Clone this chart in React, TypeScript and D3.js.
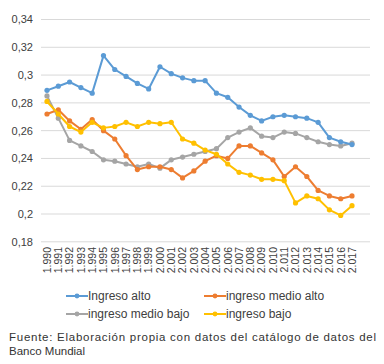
import React from "react";
import * as d3 from "d3";

const years = [1990,1991,1992,1993,1994,1995,1996,1997,1998,1999,2000,2001,2002,2003,2004,2005,2006,2007,2008,2009,2010,2011,2012,2013,2014,2015,2016,2017];
const yearLabels = years.map((y) => `${Math.floor(y / 1000)}.${String(y % 1000).padStart(3, "0")}`);

const ingresoAlto = [0.289,0.292,0.295,0.291,0.287,0.314,0.304,0.299,0.294,0.290,0.306,0.301,0.298,0.296,0.296,0.287,0.284,0.277,0.271,0.267,0.270,0.271,0.270,0.269,0.266,0.255,0.252,0.250];
const ingresoMedioAlto = [0.272,0.275,0.267,0.261,0.268,0.260,0.254,0.242,0.232,0.234,0.234,0.232,0.226,0.231,0.238,0.242,0.240,0.249,0.249,0.244,0.239,0.227,0.234,0.227,0.217,0.213,0.211,0.213];
const ingresoMedioBajo = [0.285,0.269,0.253,0.249,0.245,0.239,0.238,0.236,0.234,0.236,0.233,0.239,0.241,0.243,0.245,0.247,0.255,0.259,0.262,0.256,0.255,0.259,0.258,0.255,0.252,0.250,0.249,0.251];
const ingresoBajo = [0.281,0.272,0.263,0.259,0.266,0.262,0.263,0.266,0.263,0.266,0.265,0.266,0.254,0.251,0.246,0.243,0.236,0.230,0.228,0.225,0.225,0.224,0.208,0.213,0.211,0.203,0.199,0.206];

const yTicks = [0.18,0.2,0.22,0.24,0.26,0.28,0.3,0.32,0.34];
const yTickLabels = ["0,18","0,2","0,22","0,24","0,26","0,28","0,3","0,32","0,34"];

const series = [
  { name: "Ingreso alto", values: ingresoAlto, color: "#5B9BD5" },
  { name: "ingreso medio alto", values: ingresoMedioAlto, color: "#ED7D31" },
  { name: "ingreso medio bajo", values: ingresoMedioBajo, color: "#A5A5A5" },
  { name: "ingreso bajo", values: ingresoBajo, color: "#FFC000" },
];

const drawOrder = [2, 1, 3, 0];

export default function App() {
  const W = 384, H = 364;
  const x = d3.scalePoint<number>().domain(years).range([47, 352]);
  const y = d3.scaleLinear().domain([0.18, 0.34]).range([241.8, 19.5]);
  const gridX0 = 41, gridX1 = 370;
  const font = "'Liberation Sans', Arial, sans-serif";
  const line = d3.line<number>().x((_, i) => x(years[i])!).y((d) => y(d));

  const legendItems = [
    { s: series[0], lx: 66, ly: 296 },
    { s: series[1], lx: 204, ly: 296 },
    { s: series[2], lx: 66, ly: 314 },
    { s: series[3], lx: 204, ly: 314 },
  ];

  return (
    <svg width={W} height={H} style={{ position: "absolute", left: 0, top: 0, background: "#fff" }} fontFamily={font}>
      {yTicks.map((t, i) => (
        <g key={t}>
          <line x1={gridX0} x2={gridX1} y1={y(t)} y2={y(t)} stroke="#D9D9D9" strokeWidth={1} />
          <text x={33} y={y(t)} dy="0.35em" textAnchor="end" fontSize={11} fill="#404040">{yTickLabels[i]}</text>
        </g>
      ))}
      {years.map((yr, i) => (
        <text key={yr} transform={`translate(${x(yr)! + 3.8},247) rotate(-90)`} textAnchor="end" fontSize={10.5} fill="#404040">{yearLabels[i]}</text>
      ))}
      {drawOrder.map((k) => {
        const s = series[k];
        return (
          <g key={s.name}>
            <path d={line(s.values)!} fill="none" stroke={s.color} strokeWidth={2} strokeLinejoin="round" />
            {s.values.map((v, i) => (
              <circle key={i} cx={x(years[i])} cy={y(v)} r={2.6} fill={s.color} />
            ))}
          </g>
        );
      })}
      {legendItems.map(({ s, lx, ly }) => (
        <g key={s.name}>
          <line x1={lx} x2={lx + 22} y1={ly} y2={ly} stroke={s.color} strokeWidth={2} />
          <circle cx={lx + 11} cy={ly} r={2.4} fill={s.color} />
          <text x={lx + 22} y={ly} dy="0.35em" fontSize={12} fill="#404040">{s.name}</text>
        </g>
      ))}
      <text x={9} y={341} fontSize={11.5} fill="#333" textLength={367} lengthAdjust="spacing">Fuente: Elaboración propia con datos del catálogo de datos del</text>
      <text x={9} y={355} fontSize={11.5} fill="#333">Banco Mundial</text>
    </svg>
  );
}
